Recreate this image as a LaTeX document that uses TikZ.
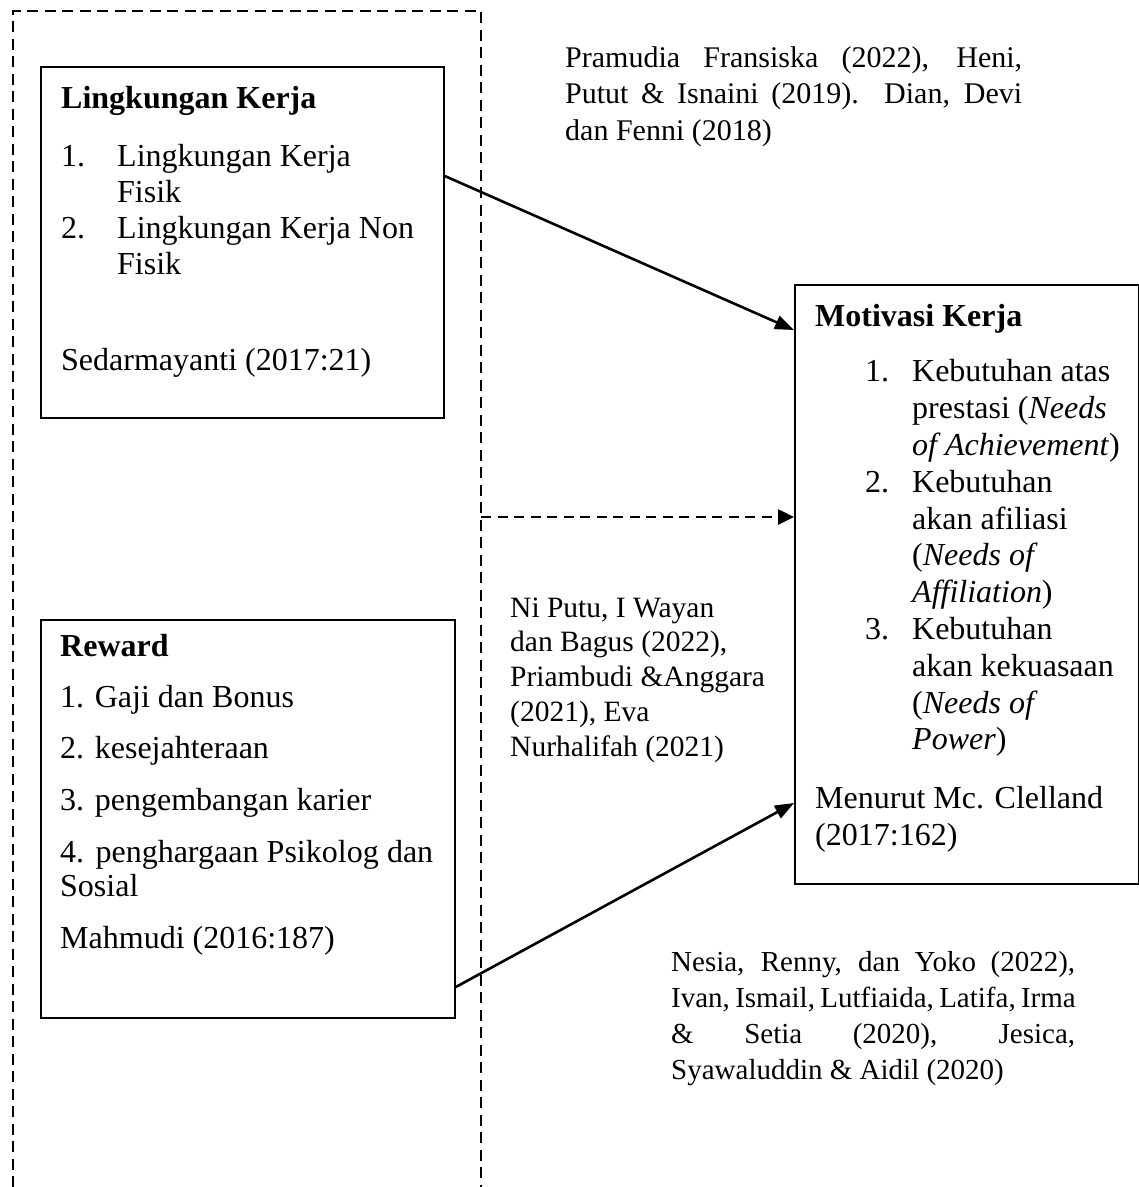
\documentclass[tikz,border=0pt]{standalone}
\usepackage{fontspec}
\setmainfont{Liberation Serif}
\usetikzlibrary{arrows.meta,calc}
\begin{document}
\begin{tikzpicture}[x=1pt,y=-1pt,
  box/.style={draw, line width=1.8pt, inner sep=0pt, anchor=north west},
  txt/.style={anchor=base west, inner sep=0pt},
  conn/.style={line width=2.6pt, -{Triangle[length=19pt,width=14pt]}},
  frameline/.style={line width=2.6pt, dash pattern=on 11pt off 6.5pt},
  dashconn/.style={line width=2.6pt, dash pattern=on 10pt off 6.5pt, -{Triangle[length=16pt,width=15pt]}},
  boxfont/.style={font=\fontsize{32}{36}\selectfont}]
\useasboundingbox (0,0) rectangle (1139,1187);

% dashed frame
\coordinate (fbl) at (13,1187);
\coordinate (ftl) at (13,11);
\coordinate (ftr) at (481,11);
\coordinate (fbr) at (481,1187);
\coordinate (fmid) at (481,517);
\draw[frameline] (fbl) -- (ftl) -- (ftr) -- (fbr);

% boxes
\node[box, minimum width=403pt, minimum height=351pt] (lk) at (40,66) {};
\node[box, minimum width=414pt, minimum height=398pt] (rw) at (40,619) {};
\node[box, minimum width=344pt, minimum height=599pt] (mk) at (794,284) {};

% Lingkungan Kerja text
\node[txt, boxfont] (lkt) at (61,108) {\parbox[t]{380pt}{%
\textbf{Lingkungan Kerja}\\[22pt]
\makebox[56pt][l]{1.}Lingkungan Kerja\\
\hspace*{56pt}Fisik\\
\makebox[56pt][l]{2.}Lingkungan Kerja Non\\
\hspace*{56pt}Fisik\\[60pt]
Sedarmayanti (2017:21)}};

% Reward text
\node[txt, font=\fontsize{32}{34}\selectfont] (rwt) at (60,656) {\parbox[t]{390pt}{%
\textbf{Reward}\\[17pt]
1. Gaji dan Bonus\\[17pt]
2. kesejahteraan\\[18pt]
3. pengembangan karier\\[18pt]
\makebox[373pt][s]{4. penghargaan Psikolog dan}\\
Sosial\\[18pt]
Mahmudi (2016:187)}};

% Motivasi Kerja text
\node[txt, font=\fontsize{32}{36.8}\selectfont] (mkt) at (815,326) {\parbox[t]{320pt}{%
\textbf{Motivasi Kerja}\\[19pt]
\hspace*{50pt}\makebox[47pt][l]{1.}Kebutuhan atas\\
\hspace*{97pt}prestasi (\textit{Needs}\\
\hspace*{97pt}\textit{of Achievement})\\
\hspace*{50pt}\makebox[47pt][l]{2.}Kebutuhan\\
\hspace*{97pt}akan afiliasi\\
\hspace*{97pt}(\textit{Needs of}\\
\hspace*{97pt}\textit{Affiliation})\\
\hspace*{50pt}\makebox[47pt][l]{3.}Kebutuhan\\
\hspace*{97pt}akan kekuasaan\\
\hspace*{97pt}(\textit{Needs of}\\
\hspace*{97pt}\textit{Power})\\[22pt]
Menurut Mc. Clelland\\
(2017:162)}};

% citations
\node[txt, font=\fontsize{30}{36.5}\selectfont] (c1) at (565,67) {\parbox[t]{460pt}{%
\makebox[457pt][s]{Pramudia Fransiska (2022), Heni,}\\
\makebox[457pt][s]{Putut \& Isnaini (2019). Dian, Devi}\\
dan Fenni (2018)}};

\node[txt, font=\fontsize{29.5}{34.8}\selectfont] (c2) at (510,617) {\parbox[t]{280pt}{%
Ni Putu, I Wayan\\
dan Bagus (2022),\\
Priambudi \&Anggara\\
(2021), Eva\\
Nurhalifah (2021)}};

\node[txt, font=\fontsize{29}{36}\selectfont] (c3) at (671,971) {\parbox[t]{410pt}{%
\makebox[404pt][s]{Nesia, Renny, dan Yoko (2022),}\\
\makebox[404pt][s]{Ivan, Ismail, Lutfiaida, Latifa, Irma}\\
\makebox[404pt][s]{\& Setia (2020), Jesica,}\\
Syawaluddin \& Aidil (2020)}};

% connectors
\draw[conn] ($(lk.north east)+(0,110)$) -- ($(mk.north west)+(0,46)$);
\draw[dashconn] (fmid) -- ($(mk.north west)+(0,233)$);
\draw[conn] ($(rw.north east)+(0,368)$) -- ($(mk.north west)+(0,519)$);
\end{tikzpicture}
\end{document}
